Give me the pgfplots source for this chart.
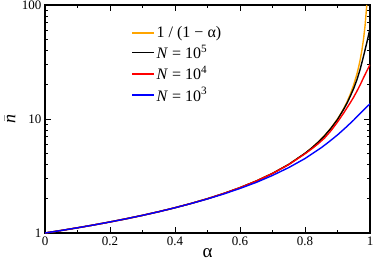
\documentclass[border=0pt]{standalone}
\usepackage{pgfplots}
\pgfplotsset{compat=1.18}
\usepackage{fontspec}
\setmainfont{Liberation Serif}
\definecolor{myorange}{RGB}{255,165,0}
\begin{document}
\begin{tikzpicture}
\begin{axis}[
  scale only axis,
  width=325pt, height=228pt,
  ymode=log,
  xmin=0, xmax=1, ymin=1, ymax=100,
  xtick={0,0.2,0.4,0.6,0.8,1},
  xticklabels={0,0.2,0.4,0.6,0.8,1},
  minor xtick={0.1,0.3,0.5,0.7,0.9},
  ytick={1,10,100},
  yticklabels={1,10,100},
  tick align=inside,
  major tick length=6pt,
  minor tick length=3pt,
  tick style={line width=0.8pt, black},
  axis line style={line width=1.2pt},
  tick label style={font=\fontsize{13}{14}\selectfont},
  /pgf/number format/assume math mode=true,
  xlabel={α},
  ylabel={$\bar{\textit{n}}$},
  xlabel style={font=\fontsize{19}{21}\selectfont, at={(axis description cs:0.5,-0.088)}, anchor=center},
  ylabel style={font=\fontsize{18}{20}\selectfont, at={(axis description cs:-0.108,0.5)}, anchor=center},
  legend style={draw=none, fill=none, at={(axis description cs:0.265,0.915)}, anchor=north west,
    font=\fontsize{16}{18}\selectfont, row sep=2pt, inner sep=0pt},
  legend cell align=left,
  legend image code/.code={\draw[line width=1.4pt] plot coordinates {(0pt,0pt) (11pt,0pt) (22pt,0pt)};},
  every axis plot/.append style={line width=1.4pt},
]
\addplot[myorange] coordinates {
(0,1)(0.05,1.0526)(0.1,1.1111)(0.15,1.1765)(0.2,1.25)(0.25,1.3333)(0.3,1.4286)(0.35,1.5385)(0.4,1.6667)(0.45,1.8182)(0.5,2)(0.55,2.2222)(0.6,2.5)(0.65,2.857)(0.7,3.333)(0.75,4)(0.8,5)(0.82,5.556)(0.84,6.25)(0.86,7.143)(0.88,8.333)(0.9,10)(0.91,11.11)(0.92,12.5)(0.93,14.29)(0.94,16.667)(0.95,20)(0.96,25)(0.965,28.57)(0.97,33.33)(0.975,40)(0.98,50)(0.985,66.67)(0.99,100)
};
\addlegendentry{1 / (1 − α)}
\addplot[black] coordinates {
(0,1)(0.05,1.0526)(0.1,1.1111)(0.15,1.1765)(0.2,1.25)(0.25,1.3333)(0.3,1.4286)(0.35,1.5385)(0.4,1.6667)(0.45,1.8182)(0.5,2)(0.55,2.2222)(0.6,2.5)(0.65,2.857)(0.7,3.333)(0.75,4)(0.8,5)(0.82,5.55)(0.84,6.24)(0.86,7.12)(0.88,8.3)(0.9,9.9)(0.92,12.3)(0.93,13.9)(0.94,16.0)(0.95,18.6)(0.96,22.2)(0.97,27.5)(0.98,35.5)(0.99,46.5)(1.0,62)
};
\addlegendentry{\textit{N} = 10\textsuperscript{5}}
\addplot[red] coordinates {
(0,1)(0.05,1.0526)(0.1,1.1111)(0.15,1.1765)(0.2,1.25)(0.25,1.3333)(0.3,1.4286)(0.35,1.5385)(0.4,1.6667)(0.45,1.8182)(0.5,2)(0.55,2.2222)(0.6,2.5)(0.65,2.855)(0.7,3.33)(0.75,3.98)(0.8,4.95)(0.82,5.45)(0.84,6.05)(0.86,6.8)(0.88,7.9)(0.9,9.4)(0.92,11.4)(0.94,14.0)(0.95,15.6)(0.96,17.6)(0.97,20.0)(0.98,23.0)(0.99,26.3)(1.0,30)
};
\addlegendentry{\textit{N} = 10\textsuperscript{4}}
\addplot[blue] coordinates {
(0,1)(0.05,1.0526)(0.1,1.111)(0.15,1.176)(0.2,1.25)(0.25,1.333)(0.3,1.428)(0.35,1.537)(0.4,1.665)(0.45,1.815)(0.5,1.99)(0.55,2.2)(0.6,2.46)(0.65,2.78)(0.7,3.2)(0.75,3.75)(0.8,4.5)(0.85,5.6)(0.875,6.35)(0.9,7.25)(0.925,8.4)(0.95,9.8)(0.975,11.6)(1.0,13.6)
};
\addlegendentry{\textit{N} = 10\textsuperscript{3}}
\end{axis}
\pgfresetboundingbox
\path[use as bounding box] ([shift={(-45pt,-35pt)}]current axis.south west) rectangle ([shift={(4pt,5pt)}]current axis.north east);
\end{tikzpicture}
\end{document}
